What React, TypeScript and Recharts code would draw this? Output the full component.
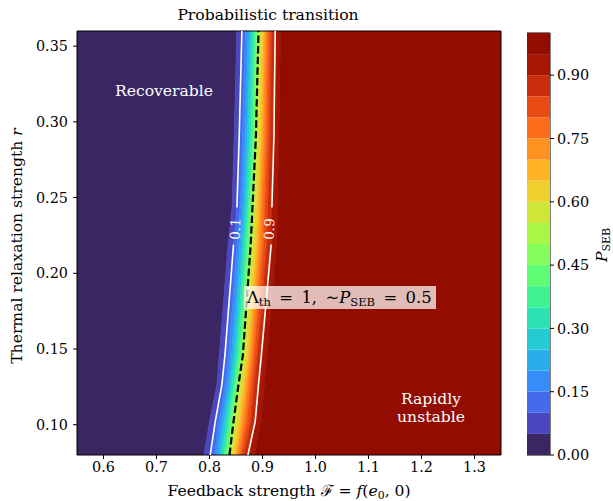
import { ComposedChart, Area, Line, XAxis, YAxis, ReferenceArea, BarChart, Bar } from 'recharts';

// thermal relaxation strength r (rows where the contours were read)
const rValues = [0.08, 0.102, 0.1265, 0.146, 0.219, 0.2435, 0.29, 0.36];

// contour levels of P_SEB
const levels = [0, 0.05, 0.1, 0.15, 0.2, 0.25, 0.3, 0.35, 0.4, 0.45, 0.5, 0.55, 0.6, 0.65, 0.7, 0.75, 0.8, 0.85, 0.9, 0.95, 1.0];

// feedback strength where P_SEB crosses 0.05, 0.10, ... 0.95 (one row per r value)
const levelCrossings = [
    [0.7895, 0.8013, 0.809, 0.8147, 0.8195, 0.8237, 0.8274, 0.831, 0.8344, 0.8377, 0.8409, 0.8441, 0.8475, 0.8511, 0.8551, 0.8597, 0.8652, 0.8725, 0.885],
    [0.8, 0.8108, 0.8181, 0.8235, 0.828, 0.832, 0.8356, 0.8389, 0.8422, 0.8453, 0.849, 0.8528, 0.8568, 0.8611, 0.8658, 0.8711, 0.8776, 0.8862, 0.8975],
    [0.814, 0.8234, 0.83, 0.8349, 0.839, 0.8426, 0.8459, 0.8489, 0.8518, 0.8547, 0.8582, 0.8617, 0.8654, 0.8693, 0.8736, 0.8786, 0.8845, 0.8925, 0.9035],
    [0.8185, 0.8291, 0.8362, 0.8416, 0.846, 0.8499, 0.8534, 0.8567, 0.8599, 0.863, 0.8662, 0.8694, 0.8728, 0.8765, 0.8805, 0.885, 0.8906, 0.8979, 0.9085],
    [0.835, 0.8453, 0.8521, 0.8573, 0.8615, 0.8652, 0.8686, 0.8717, 0.8747, 0.8777, 0.8812, 0.8848, 0.8886, 0.8926, 0.8971, 0.9021, 0.9083, 0.9164, 0.927],
    [0.8425, 0.8517, 0.8579, 0.8625, 0.8664, 0.8698, 0.8728, 0.8757, 0.8784, 0.8811, 0.8844, 0.8879, 0.8914, 0.8952, 0.8994, 0.9042, 0.91, 0.9177, 0.928],
    [0.8465, 0.856, 0.8626, 0.8676, 0.8717, 0.8754, 0.8786, 0.8817, 0.8846, 0.8875, 0.8906, 0.8938, 0.8971, 0.9006, 0.9045, 0.909, 0.9143, 0.9215, 0.931],
    [0.8515, 0.8611, 0.8677, 0.8727, 0.8768, 0.8804, 0.8837, 0.8867, 0.8896, 0.8925, 0.8954, 0.8983, 0.9014, 0.9046, 0.9083, 0.9124, 0.9174, 0.924, 0.934],
];

// Lambda_th = 1 curve
const lambdaX = [0.8377, 0.8453, 0.8547, 0.863, 0.8777, 0.8811, 0.8875, 0.8925];

const xTicks = [0.6, 0.7, 0.8, 0.9, 1.0, 1.1, 1.2, 1.3];
const yTicks = [0.1, 0.15, 0.2, 0.25, 0.3, 0.35];
const cbTicks = [0, 0.15, 0.3, 0.45, 0.6, 0.75, 0.9];

const W = 613;
const H = 501;
const FONT = 'DejaVu Serif';

// turbo colormap (polynomial approximation)
function turbo(t: number) {
    const r = 0.13572138 + t * (4.6153926 + t * (-42.66032258 + t * (132.13108234 + t * (-152.94239396 + t * 59.28637943))));
    const g = 0.09140261 + t * (2.19418839 + t * (4.84296658 + t * (-14.18503333 + t * (4.27729857 + t * 2.82956604))));
    const b = 0.1066733 + t * (12.64194608 + t * (-60.58204836 + t * (110.36276771 + t * (-89.90310912 + t * 27.34824973))));
    const c = (v: number) => Math.round(Math.max(0, Math.min(1, v)) * 255);
    return `rgb(${c(r)},${c(g)},${c(b)})`;
}

const bandColors = levels.slice(0, -1).map((lv, i) => turbo((lv + levels[i + 1]) / 2));

const rows = rValues.map((r, i) => ({ r, cross: levelCrossings[i] }));
const lambdaRows = rValues.map((r, i) => ({ r, x: lambdaX[i] }));
const cbRow = [Object.fromEntries([['k', 'P'], ...bandColors.map((_, i) => [`b${i}`, levels[i + 1] - levels[i]])])];

const tickStyle = { fill: '#000', fontSize: 14.4, fontFamily: FONT };

const crossAt = (d: any, i: number) => (d && d.cross ? d.cross[i] : null);
const bandRange = (i: number, last: number) => (d: any) => {
    if (!d || !d.cross) return null;
    return [i === 0 ? 0.55 : d.cross[i - 1], i === last ? 1.35 : d.cross[i]];
};

export default function App() {
    const lastBand = bandColors.length - 1;
    const gap = 3.2;
    return (
        <div style={{ position: 'absolute', left: 0, top: 0, width: W, height: H, background: '#fff' }}>
            <ComposedChart width={W} height={H} layout="vertical" data={rows} margin={{ top: 31, right: 112, bottom: 0, left: 0 }}>
                <XAxis type="number" domain={[0.55, 1.35]} ticks={xTicks} allowDataOverflow height={46}
                    tickSize={4} tickMargin={3} axisLine={false} tickLine={{ stroke: '#000' }} tick={tickStyle}
                    tickFormatter={(v: number) => v.toFixed(1)} />
                <YAxis type="number" dataKey="r" domain={[0.08, 0.36]} ticks={yTicks} allowDataOverflow reversed width={77}
                    tickSize={4} tickMargin={5} axisLine={false} tickLine={{ stroke: '#000' }} tick={tickStyle}
                    tickFormatter={(v: number) => v.toFixed(2)} />
                {bandColors.map((c, i) => (
                    <Area key={`band${i}`} type="linear" dataKey={bandRange(i, lastBand)}
                        fill={c} fillOpacity={1} stroke={c} strokeWidth={0.6} dot={false} activeDot={false}
                        isAnimationActive={false} />
                ))}
                <Line data={rows.slice(0, 5)} dataKey={(d: any) => crossAt(d, 1)} type="linear" stroke="#fff" strokeWidth={1.6} dot={false} activeDot={false} isAnimationActive={false} />
                <Line data={rows.slice(5)} dataKey={(d: any) => crossAt(d, 1)} type="linear" stroke="#fff" strokeWidth={1.6} dot={false} activeDot={false} isAnimationActive={false} />
                <Line data={rows.slice(0, 5)} dataKey={(d: any) => crossAt(d, 17)} type="linear" stroke="#fff" strokeWidth={1.6} dot={false} activeDot={false} isAnimationActive={false} />
                <Line data={rows.slice(5)} dataKey={(d: any) => crossAt(d, 17)} type="linear" stroke="#fff" strokeWidth={1.6} dot={false} activeDot={false} isAnimationActive={false} />
                <Line data={lambdaRows} dataKey="x" type="linear" stroke="#000" strokeWidth={2.2} strokeDasharray="7.4 3.2" dot={false} activeDot={false} isAnimationActive={false} />
                <ReferenceArea x1={0.55} x2={1.35} y1={0.08} y2={0.36} fill="none" stroke="#000" strokeWidth={1} />
            </ComposedChart>

            <div style={{ position: 'absolute', left: 527, top: 0 }}>
                <BarChart width={86} height={H} data={cbRow} margin={{ top: 33, right: 0, bottom: 46, left: 0 }} barCategoryGap={0} barGap={0}>
                    <XAxis dataKey="k" hide />
                    <YAxis orientation="right" type="number" domain={[0, 1]} ticks={cbTicks} width={63}
                        tickSize={4} tickMargin={3} axisLine={false} tickLine={{ stroke: '#000' }} tick={{ ...tickStyle, textAnchor: 'start' }}
                        tickFormatter={(v: number) => v.toFixed(2)} />
                    {bandColors.map((c, i) => (
                        <Bar key={`cb${i}`} dataKey={`b${i}`} stackId="cb" fill={c} isAnimationActive={false} />
                    ))}
                    <ReferenceArea y1={0} y2={1} fill="none" stroke="#000" strokeWidth={1} />
                </BarChart>
            </div>

            <svg width={W} height={H} style={{ position: 'absolute', left: 0, top: 0, pointerEvents: 'none' }} fontFamily={FONT}>
                <text x={268} y={20} fontSize={15.6} textAnchor="middle" fill="#000">Probabilistic transition</text>
                <text x={289} y={496} fontSize={15.6} textAnchor="middle" fill="#000">
                    Feedback strength <tspan>ℱ</tspan> = <tspan fontStyle="italic">f</tspan>(<tspan fontStyle="italic">e</tspan><tspan fontSize={11} dy={3}>0</tspan><tspan dy={-3}>, 0)</tspan>
                </text>
                <text x={0} y={0} fontSize={15.6} textAnchor="middle" fill="#000" transform="translate(22 246) rotate(-90)">
                    Thermal relaxation strength <tspan fontStyle="italic">r</tspan>
                </text>
                <text x={0} y={0} fontSize={15.6} textAnchor="middle" fill="#000" transform="translate(607 245) rotate(-90)">
                    <tspan fontStyle="italic">P</tspan><tspan fontSize={11} dy={3}>SEB</tspan>
                </text>
                <text x={164} y={96} fontSize={15.6} textAnchor="middle" fill="#fff">Recoverable</text>
                <text x={431} y={404} fontSize={15.6} textAnchor="middle" fill="#fff">Rapidly</text>
                <text x={431} y={422} fontSize={15.6} textAnchor="middle" fill="#fff">unstable</text>
                <text x={0} y={0} fontSize={13.5} textAnchor="middle" dominantBaseline="central" fill="#fff" transform="translate(235 229) rotate(-87)">0.1</text>
                <text x={0} y={0} fontSize={13.5} textAnchor="middle" dominantBaseline="central" fill="#fff" transform="translate(269 229) rotate(-87)">0.9</text>
                <rect x={244} y={286} width={192} height={23} fill="#fff" fillOpacity={0.72} />
                <text x={247} y={303} fontSize={16.4} fill="#000">
                    Λ<tspan fontSize={11.5} dy={3}>th</tspan><tspan dy={-3} dx={gap}>{' ='}</tspan><tspan dx={gap}>{' 1,'}</tspan><tspan dx={gap}>{' ∼'}</tspan><tspan fontStyle="italic">P</tspan><tspan fontSize={11.5} dy={3}>SEB</tspan><tspan dy={-3} dx={gap}>{' ='}</tspan><tspan dx={gap}>{' 0.5'}</tspan>
                </text>
            </svg>
        </div>
    );
}
